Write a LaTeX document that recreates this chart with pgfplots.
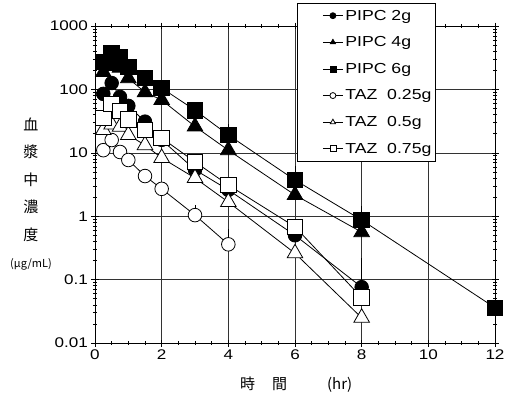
\documentclass[border=0pt]{standalone}
\usepackage{pgfplots}
\pgfplotsset{compat=1.18}
\usepackage{fontspec}
\setmainfont{Liberation Sans}
\newfontfamily\wide[FakeStretch=1.22]{Liberation Sans}
\newfontfamily\cjk{Noto Sans CJK JP}
\begin{document}
\begin{tikzpicture}[x=1pt,y=1pt]
\path[use as bounding box] (0,0) rectangle (509,397);
\begin{axis}[at={(95pt,54pt)}, anchor=south west, scale only axis,
  width=400pt, height=317pt,
  ymode=log, xmin=0, xmax=12, ymin=0.01, ymax=1000,
  xtick={0,2,4,6,8,10,12}, xticklabels={0,2,4,6,8,10,12},
  minor x tick num=3,
  ytick={0.01,0.1,1,10,100,1000}, yticklabels={0.01,0.1,1,10,100,1000},
  grid=major, major grid style={black!80, line width=0.6pt},
  tick align=center, major tick length=7pt, minor tick length=4pt,
  tick style={black, line width=0.6pt},
  axis line style={line width=0.8pt},
  ticklabel style={font=\wide\fontsize{14}{16}\selectfont},
  xlabel={時\hspace{17pt}間\hspace{40pt}(hr)},
  xlabel style={font=\cjk\fontsize{15}{17}\selectfont, at={(axis description cs:0.503,0)}, anchor=center, yshift=-42pt},
  ylabel={血\\漿\\中\\濃\\度\\{\fontsize{11}{12}\selectfont(μg/mL)}},
  ylabel style={font=\cjk\fontsize{15}{27.5}\selectfont, align=center, rotate=-90, at={(axis description cs:-0.16,0.47)}, anchor=center},
  legend style={at={(axis description cs:0.505,1.0726)}, anchor=north west,
    draw=black, line width=0.8pt, fill=white,
    font=\wide\fontsize{14.5}{17}\selectfont, row sep=11pt,
    inner xsep=1.5pt, inner ysep=4.5pt, cells={anchor=west}},
  legend image code/.code={\pgfpathmoveto{\pgfpoint{0pt}{0pt}}\pgfusepath{discard}
    \draw[mark repeat=2, mark phase=2, mark size=3pt, line width=0.8pt] plot coordinates {(24pt,0pt)(34pt,0pt)(44pt,0pt)};},
]
% error bars
\addplot[forget plot, only marks, mark=none, black, error bars/.cd, y dir=plus, y explicit,
  error bar style={draw=black, line width=0.8pt},
  error mark options={draw=black, mark size=4pt, line width=0.8pt}]
  coordinates {(4,19.1) +- (0,5.4) (6,3.72) +- (0,1.7) (8,0.87) +- (0,0.38)
  (12,0.036) +- (0,0.094) (8,0.076) +- (0,0.114) (3,1.04) +- (0,0.26) (4,0.36) +- (0,0.18)};
% PIPC 2g
\addplot[black, line width=0.8pt, mark=*, mark size=6.8pt, mark options={fill=black}]
  coordinates {(0.25,85) (0.5,126) (0.75,76) (1,55) (1.5,31) (2,16) (3,5.4) (4,2.6) (6,0.5) (8,0.076)};
\addlegendentry{PIPC 2g}
% PIPC 4g
\addplot[black, line width=0.8pt, mark=triangle*, mark size=9pt, mark options={fill=black}]
  coordinates {(0.25,188) (0.5,235) (0.75,220) (1,150) (1.5,90) (2,68) (3,26) (4,11) (6,2.16) (8,0.56)};
\addlegendentry{PIPC 4g}
% PIPC 6g
\addplot[black, line width=0.8pt, mark=square*, mark size=7.8pt, mark options={fill=black}]
  coordinates {(0.25,270) (0.5,375) (0.75,324) (1,225) (1.5,151) (2,105) (3,47) (4,19.1) (6,3.72) (8,0.87) (12,0.036)};
\addlegendentry{PIPC 6g}
% TAZ 0.25g
\addplot[black, line width=0.8pt, mark=*, mark size=6.8pt, mark options={fill=white}]
  coordinates {(0.25,11) (0.5,15.9) (0.75,10.3) (1,7.7) (1.5,4.3) (2,2.7) (3,1.04) (4,0.36)};
\addlegendentry{TAZ\ \ 0.25g}
% TAZ 0.5g
\addplot[black, line width=0.8pt, mark=triangle*, mark size=9pt, mark options={fill=white}]
  coordinates {(0.25,22.9) (0.5,28) (0.75,25.7) (1,19.1) (1.5,13.2) (2,8.3) (3,4.0) (4,1.67) (6,0.26) (8,0.025)};
\addlegendentry{TAZ\ \ 0.5g}
% TAZ 0.75g
\addplot[black, line width=0.8pt, mark=square*, mark size=7.8pt, mark options={fill=white}]
  coordinates {(0.25,35.4) (0.5,59) (0.75,45.5) (1,34) (1.5,22.9) (2,17.1) (3,7.2) (4,3.1) (6,0.68) (8,0.052)};
\addlegendentry{TAZ\ \ 0.75g}
\end{axis}
\end{tikzpicture}
\end{document}
